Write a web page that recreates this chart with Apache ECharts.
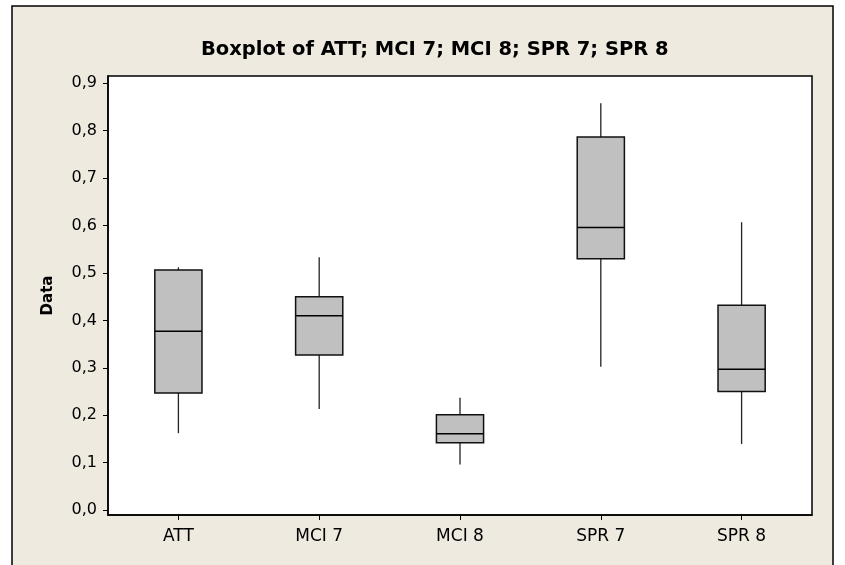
<!DOCTYPE html>
<html>
<head>
<meta charset="utf-8">
<script src="https://cdn.jsdelivr.net/npm/echarts@6/dist/echarts.min.js"></script>
<style>
html,body{margin:0;padding:0;background:#fff;}
#chart{width:845px;height:565px;}
</style>
</head>
<body>
<div id="chart"></div>
<script>
var categories = ['ATT', 'MCI 7', 'MCI 8', 'SPR 7', 'SPR 8'];
// [lower whisker, Q1, median, Q3, upper whisker]
var lowWhisker = [0.162, 0.213, 0.096, 0.302, 0.139];
var q1 = [0.247, 0.327, 0.142, 0.530, 0.250];
var median = [0.377, 0.410, 0.161, 0.596, 0.297];
var q3 = [0.506, 0.450, 0.201, 0.787, 0.432];
var highWhisker = [0.512, 0.533, 0.237, 0.858, 0.607];
var yTicks = [0, 0.1, 0.2, 0.3, 0.4, 0.5, 0.6, 0.7, 0.8, 0.9];

var data = categories.map(function (c, i) {
  return [i, lowWhisker[i], q1[i], median[i], q3[i], highWhisker[i]];
});

var font = '"DejaVu Sans", sans-serif';
var chart = echarts.init(document.getElementById('chart'));
chart.setOption({
  backgroundColor: '#ffffff',
  animation: false,
  title: {
    text: 'Boxplot of ATT; MCI 7; MCI 8; SPR 7; SPR 8',
    left: 196,
    top: 35,
    textStyle: { fontFamily: font, fontSize: 19.5, fontWeight: 'bold', color: '#000' }
  },
  graphic: [{
    type: 'rect',
    z: -10,
    shape: { x: 12, y: 6, width: 821, height: 620 },
    style: { fill: '#EEEAE0', stroke: '#000', lineWidth: 1.5 }
  }],
  grid: {
    left: 108, top: 76, right: 33, bottom: 50,
    show: true, backgroundColor: '#fff', borderColor: '#000', borderWidth: 1.5
  },
  xAxis: {
    type: 'category',
    data: categories,
    boundaryGap: true,
    axisLine: { show: true, onZero: false, lineStyle: { color: '#000', width: 1.5 } },
    axisTick: { show: true, alignWithLabel: true, length: 5, lineStyle: { color: '#000' } },
    axisLabel: { color: '#000', fontFamily: font, fontSize: 17, margin: 13 },
    splitLine: { show: false }
  },
  yAxis: {
    type: 'value',
    min: -0.0105,
    max: 0.9154,
    name: 'Data',
    nameLocation: 'middle',
    nameRotate: 90,
    nameGap: 52,
    nameTextStyle: { fontFamily: font, fontSize: 15, fontWeight: 'bold', color: '#000' },
    axisLine: { show: true, lineStyle: { color: '#000', width: 1.5 } },
    axisTick: { show: true, length: 5, customValues: yTicks, lineStyle: { color: '#000' } },
    axisLabel: {
      color: '#000', fontFamily: font, fontSize: 16, margin: 11,
      customValues: yTicks,
      formatter: function (v) { return v.toFixed(1).replace('.', ','); }
    },
    splitLine: { show: false }
  },
  series: [{
    type: 'custom',
    data: data,
    encode: { x: 0, y: [1, 2, 3, 4, 5] },
    renderItem: function (params, api) {
      var idx = api.value(0);
      var pLow = api.coord([idx, api.value(1)]);
      var pQ1 = api.coord([idx, api.value(2)]);
      var pMed = api.coord([idx, api.value(3)]);
      var pQ3 = api.coord([idx, api.value(4)]);
      var pHigh = api.coord([idx, api.value(5)]);
      var w = api.size([1, 0])[0] * 0.335;
      var cx = pQ1[0];
      var lineStyle = { stroke: '#000', lineWidth: 1.5 };
      return {
        type: 'group',
        children: [
          { type: 'line', shape: { x1: cx, y1: pLow[1], x2: cx, y2: pQ1[1] }, style: { stroke: '#222', lineWidth: 1.3 } },
          { type: 'line', shape: { x1: cx, y1: pQ3[1], x2: cx, y2: pHigh[1] }, style: { stroke: '#222', lineWidth: 1.3 } },
          { type: 'rect', shape: { x: cx - w / 2, y: pQ3[1], width: w, height: pQ1[1] - pQ3[1] }, style: { fill: '#C0C0C0', stroke: '#111', lineWidth: 1.5 } },
          { type: 'line', shape: { x1: cx - w / 2, y1: pMed[1], x2: cx + w / 2, y2: pMed[1] }, style: lineStyle }
        ]
      };
    }
  }]
});
</script>
</body>
</html>
